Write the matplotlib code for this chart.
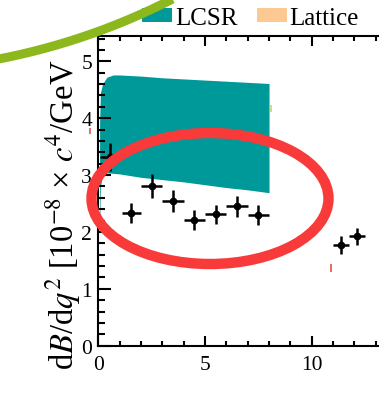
import numpy as np
import matplotlib
matplotlib.use("Agg")
import matplotlib.pyplot as plt
from matplotlib.patches import Patch, Ellipse
from matplotlib.lines import Line2D
from matplotlib.ticker import MultipleLocator

plt.rcParams["font.family"] = ["Liberation Serif", "DejaVu Serif"]
plt.rcParams["mathtext.fontset"] = "stix"

# Measured differential branching fraction per q^2 bin [GeV^2/c^4]
q2_lo = [0.10, 1.10, 2.00, 3.00, 4.00, 5.00, 6.00, 7.00, 11.00, 11.75]
q2_hi = [0.98, 2.00, 3.00, 4.00, 5.00, 6.00, 7.00, 8.00, 11.75, 12.50]
dbdq2 = [3.32, 2.33, 2.81, 2.54, 2.21, 2.31, 2.45, 2.30, 1.77, 1.92]
dbdq2_err = [0.25, 0.18, 0.21, 0.19, 0.17, 0.17, 0.18, 0.17, 0.15, 0.15]

# LCSR prediction band (low q^2)
lcsr_q2 = [0.06, 0.10, 0.20, 0.40, 0.70, 1.0, 2.0, 3.0, 4.0, 5.0, 6.0, 7.0, 8.0]
lcsr_hi = [3.90, 4.45, 4.60, 4.72, 4.76, 4.76, 4.74, 4.71, 4.69, 4.67, 4.65, 4.63, 4.61]
lcsr_lo = [1.90, 2.80, 3.01, 3.04, 3.03, 3.02, 2.96, 2.92, 2.88, 2.83, 2.78, 2.74, 2.69]

# small stray markers
mark_x = [-0.41, 8.07, 10.92]
mark_lo = [3.72, 4.10, 1.30]
mark_hi = [3.83, 4.24, 1.44]
mark_col = ["#e8504a", "#b8dc70", "#e8504a"]

x_ticks = [0, 5, 10, 15, 20]
y_ticks = [0, 1, 2, 3, 4, 5]

TEAL = "#009999"
PEACH = "#fcc992"

W, H = 379, 410
fig = plt.figure(figsize=(W / 100, H / 100), dpi=100)
x_scale = 21.34
ax = fig.add_axes([98.3 / W, (H - 346.7) / H, 23 * x_scale / W, 310 / H])

ax.fill_between(lcsr_q2, lcsr_lo, lcsr_hi, color=TEAL, lw=0, zorder=1)

q2_lo_a = np.array(q2_lo)
q2_hi_a = np.array(q2_hi)
centers = 0.5 * (q2_lo_a + q2_hi_a)
half = 0.5 * (q2_hi_a - q2_lo_a)
data = ax.errorbar(centers, dbdq2, xerr=half, yerr=dbdq2_err, fmt="o", color="black",
                   ms=4.5, elinewidth=1.8, capsize=0, zorder=3)

ax.vlines(mark_x, mark_lo, mark_hi, colors=mark_col, lw=1.2, clip_on=False, zorder=2)

ax.set_xlim(0, 23)
ax.set_ylim(0, 5.45)
ax.set_xticks(x_ticks)
ax.set_yticks(y_ticks)
ax.xaxis.set_minor_locator(MultipleLocator(1))
ax.yaxis.set_minor_locator(MultipleLocator(0.2))
ax.tick_params(which="both", direction="in", top=True, right=True, width=1.5, colors="black")
ax.tick_params(axis="y", which="major", length=9.5, pad=4.5, labelsize=15.5)
ax.tick_params(axis="y", which="minor", length=5)
ax.tick_params(axis="x", which="major", length=7, pad=7, labelsize=15.5)
ax.tick_params(axis="x", which="minor", length=3.5)
for s in ax.spines.values():
    s.set_linewidth(1.5)

ax.set_ylabel(r"d$B$/d$q^2$ [10$^{-8}$ × $c^4$/GeV", fontsize=23.5)
lab = ax.yaxis.label
lab.set_rotation_mode("anchor")
lab.set_ha("left")
lab.set_va("baseline")
ax.yaxis.set_label_coords((73 - 98.3) / (23 * x_scale), (346.7 - 370) / 310)

fs = 18
px = fs * 100 / 72
handles = [Patch(facecolor=TEAL, edgecolor="none"), Patch(facecolor=PEACH, edgecolor="none"), data]
fig.legend(handles, ["LCSR", "Lattice", "Data"], ncol=3, frameon=False, fontsize=fs,
           loc="upper left", bbox_to_anchor=(142 / W, 1 - 8 / H), borderpad=0, borderaxespad=0,
           handlelength=30 / px, handleheight=13 / px, handletextpad=3 / px, columnspacing=19 / px)

# overlay highlights
ell = Ellipse((210 / W, 1 - 199.5 / H), 237 / W, 131 / H, transform=fig.transFigure,
              fill=False, edgecolor="#f83a3a", lw=7.5, zorder=10)
fig.add_artist(ell)
t = np.linspace(np.radians(-86), np.radians(-55), 200)
cx, cy, R = -126.0, -583.0, 655.0
arc_x = (cx + R * np.cos(t)) / W
arc_y = 1 - (cy - R * np.sin(t)) / H
fig.add_artist(Line2D(arc_x, arc_y, transform=fig.transFigure, color="#8cb81e", lw=6.5,
                      solid_capstyle="butt", zorder=10))

fig.savefig("out.png", dpi=100, facecolor="white")
